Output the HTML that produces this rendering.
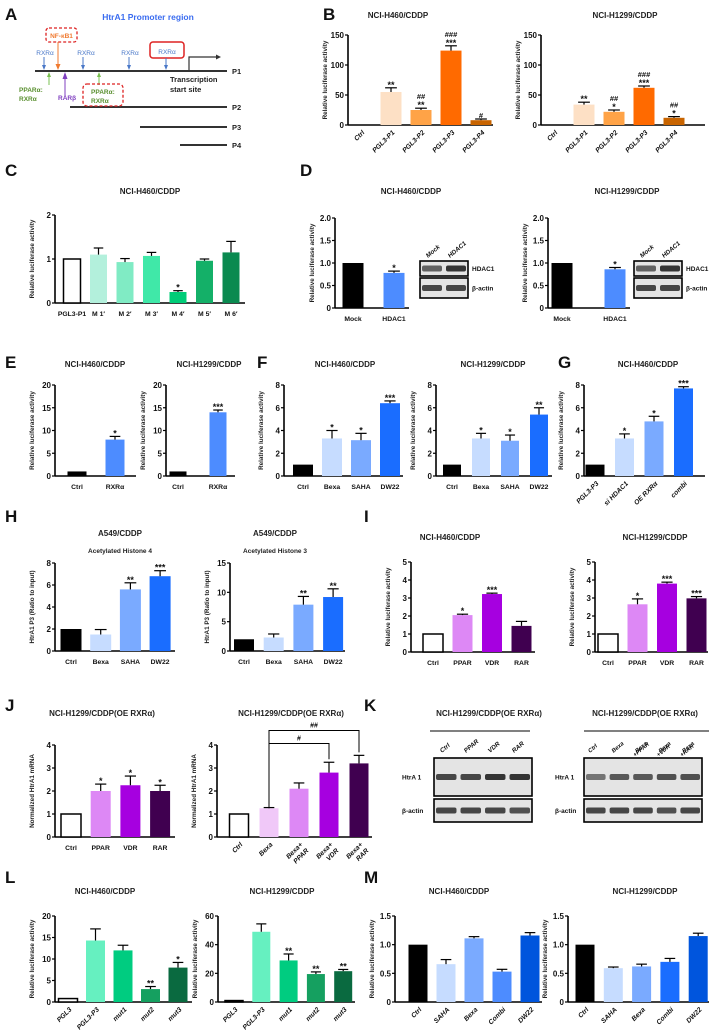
<!DOCTYPE html>
<html><head><meta charset="utf-8"><style>
body{margin:0;background:#fff}
svg{display:block;font-family:"Liberation Sans",sans-serif}
.t{font-size:7.5px;font-weight:bold;fill:#222}
.tk{font-size:8px;font-weight:bold;fill:#111}
.pl{font-size:17px;font-weight:bold;fill:#111}
</style></head><body>
<svg id="fig" width="709" height="1032" viewBox="0 0 709 1032">
<g>
<text class="pl" x="5" y="20">A</text>
<text x="148" y="20" text-anchor="middle" font-size="8.5" font-weight="bold" fill="#3a6cf0">HtrA1 Promoter region</text>
<line x1="35" y1="71" x2="227" y2="71" stroke="#333" stroke-width="2"/>
<line x1="70" y1="107" x2="227" y2="107" stroke="#333" stroke-width="2"/>
<line x1="140" y1="127" x2="227" y2="127" stroke="#333" stroke-width="2"/>
<line x1="180" y1="145" x2="227" y2="145" stroke="#333" stroke-width="2"/>
<text class="t" x="232" y="74">P1</text><text class="t" x="232" y="110">P2</text><text class="t" x="232" y="130">P3</text><text class="t" x="232" y="148">P4</text>
<rect x="46" y="28" width="31" height="14" rx="3" fill="none" stroke="#d22" stroke-dasharray="3,2" stroke-width="1.3"/>
<text x="61.5" y="38" text-anchor="middle" font-size="6.5" font-weight="bold" fill="#f07a30">NF-κB1</text>
<line x1="58" y1="42" x2="58" y2="68" stroke="#f07a30"/><path d="M55.5,64 L58,70 L60.5,64Z" fill="#f07a30"/>
<rect x="150" y="42" width="34" height="16" rx="3" fill="none" stroke="#d22" stroke-width="1.5"/>
<g font-size="6.5" fill="#4a78c8" text-anchor="middle">
<text x="45" y="55">RXRα</text><text x="86" y="55">RXRα</text><text x="130" y="55">RXRα</text><text x="167" y="54">RXRα</text></g>
<g stroke="#4a78c8"><line x1="44" y1="57" x2="44" y2="68"/><line x1="83" y1="57" x2="83" y2="68"/><line x1="129" y1="57" x2="129" y2="68"/><line x1="166" y1="58" x2="166" y2="68"/></g>
<g fill="#4a78c8"><path d="M42,65 L44,70 L46,65Z"/><path d="M81,65 L83,70 L85,65Z"/><path d="M127,65 L129,70 L131,65Z"/><path d="M164,65 L166,70 L168,65Z"/></g>
<path d="M189,71 V57 H218" fill="none" stroke="#333" stroke-width="1.2"/><path d="M216,54.5 L221,57 L216,59.5Z" fill="#333"/>
<text class="t" x="170" y="82">Transcription</text><text class="t" x="170" y="92">start site</text>
<g stroke="#7ac050"><line x1="49" y1="74" x2="49" y2="85"/><line x1="99" y1="74" x2="99" y2="85"/></g>
<path d="M47,77 L49,72 L51,77Z M97,77 L99,72 L101,77Z" fill="#7ac050"/>
<line x1="65" y1="74" x2="65" y2="96" stroke="#8040c0"/><path d="M62.5,79 L65,72 L67.5,79Z" fill="#8040c0"/>
<text x="19" y="92" font-size="6.5" font-weight="bold" fill="#5a9030">PPARα:</text><text x="19" y="101" font-size="6.5" font-weight="bold" fill="#5a9030">RXRα</text>
<text x="58" y="100" font-size="6.5" font-weight="bold" fill="#8040c0">RARβ</text>
<rect x="83" y="84" width="40" height="22" rx="4" fill="none" stroke="#d22" stroke-dasharray="3,2" stroke-width="1.3"/>
<text x="91" y="94" font-size="6.5" font-weight="bold" fill="#5a9030">PPARα:</text><text x="91" y="103" font-size="6.5" font-weight="bold" fill="#5a9030">RXRα</text>
</g>
<g>
<text class="pl" x="323" y="20">B</text><text class="pl" x="5" y="176">C</text><text class="pl" x="300" y="176">D</text>
<text class="pl" x="5" y="368">E</text><text class="pl" x="257" y="368">F</text><text class="pl" x="558" y="368">G</text>
<text class="pl" x="5" y="522">H</text><text class="pl" x="364" y="522">I</text>
<text class="pl" x="5" y="711">J</text><text class="pl" x="364" y="711">K</text>
<text class="pl" x="5" y="883">L</text><text class="pl" x="364" y="883">M</text>
</g>
<g id="blots"></g>
<g id="charts"></g>
</svg>
<script>
// ---- data ----
const bCats=["Ctrl","PGL3-P1","PGL3-P2","PGL3-P3","PGL3-P4"];
const bLeftVals=[0,55,25,124,8];const bLeftErr=[0,7,3,8,2];
const bLeftS1=["","**","**","***",""];const bLeftS2=["","","##","###","#"];
const bRightVals=[0,34,22,62,12];const bRightErr=[0,4,3,3,2];
const bRightS1=["","**","*","***","*"];const bRightS2=["","","##","###","##"];
const cCats=["PGL3-P1","M 1′","M 2′","M 3′","M 4′","M 5′","M 6′"];
const cVals=[1,1.1,0.93,1.07,0.25,0.96,1.15];const cErr=[0,0.15,0.08,0.08,0.03,0.04,0.25];
const cStars=["","","","","*","",""];
const dCats=["Mock","HDAC1"];
const dLeftVals=[1,0.78];const dLeftErr=[0,0.04];const dRightVals=[1,0.86];const dRightErr=[0,0.04];
const dStars=["","*"];
const eCats=["Ctrl","RXRα"];
const eLeftVals=[1,8];const eLeftErr=[0,0.7];const eLeftStars=["","*"];
const eRightVals=[1,14];const eRightErr=[0,0.5];const eRightStars=["","***"];
const fCats=["Ctrl","Bexa","SAHA","DW22"];
const fLeftVals=[1,3.3,3.15,6.4];const fLeftErr=[0,0.7,0.6,0.2];const fLeftStars=["","*","*","***"];
const fRightVals=[1,3.3,3.1,5.4];const fRightErr=[0,0.45,0.5,0.6];const fRightStars=["","*","*","**"];
const gCats=["PGL3-P3","si HDAC1","OE RXRα","combi"];
const gVals=[1,3.3,4.8,7.7];const gErr=[0,0.4,0.45,0.15];const gStars=["","*","*","***"];
const hCats=["Ctrl","Bexa","SAHA","DW22"];
const hLeftVals=[2,1.5,5.6,6.8];const hLeftErr=[0,0.45,0.6,0.5];const hLeftStars=["","","**","***"];
const hRightVals=[2,2.3,7.9,9.2];const hRightErr=[0,0.6,1.4,1.4];const hRightStars=["","","**","**"];
const iCats=["Ctrl","PPAR","VDR","RAR"];
const iLeftVals=[1,2.05,3.22,1.45];const iLeftErr=[0,0.05,0.05,0.25];const iLeftStars=["","*","***",""];
const iRightVals=[1,2.65,3.8,2.98];const iRightErr=[0,0.3,0.08,0.1];const iRightStars=["","*","***","***"];
const jLeftCats=["Ctrl","PPAR","VDR","RAR"];
const jLeftVals=[1,2,2.25,2];const jLeftErr=[0,0.3,0.4,0.25];const jLeftStars=["","*","*","*"];
const jRightCats=["Ctrl","Bexa","Bexa+\nPPAR","Bexa+\nVDR","Bexa+\nRAR"];
const jRightVals=[1,1.25,2.1,2.8,3.2];const jRightErr=[0,0.03,0.25,0.45,0.35];
const lCats=["PGL3","PGL3-P3","mut1","mut2","mut3"];
const lLeftVals=[0.8,14.3,12,3,8];const lLeftErr=[0,2.7,1.2,0.6,1.2];const lLeftStars=["","","","**","*"];
const lRightVals=[1,49,29,19.5,21.5];const lRightErr=[0,5.5,4.5,1.5,1.2];const lRightStars=["","","**","**","**"];
const mCats=["Ctrl","SAHA","Bexa","Combi","DW22"];
const mLeftVals=[1,0.66,1.11,0.53,1.16];const mLeftErr=[0,0.08,0.03,0.04,0.05];
const mRightVals=[1,0.59,0.62,0.70,1.15];const mRightErr=[0,0.02,0.04,0.06,0.05];
const tB=[0,50,100,150],t2=[0,1,2],tD=[0,0.5,1,1.5,2],t20=[0,5,10,15,20],t8=[0,2,4,6,8],t15=[0,5,10,15],t5=[0,1,2,3,4,5],t4=[0,1,2,3,4],t60=[0,20,40,60],tM=[0,0.5,1,1.5];

const NS="http://www.w3.org/2000/svg";
const root=document.getElementById('charts');
function mk(tag,attrs,parent){const e=document.createElementNS(NS,tag);for(const k in attrs)e.setAttribute(k,attrs[k]);parent.appendChild(e);return e;}
const orange=["#fff","#fde0c5","#ffa347","#ff6a00","#c86400"];
const greens=["#fff","#b3f0dc","#80ebc4","#40e8a8","#00cc77","#14b068","#0a8a50"];
const blues4=["#000","#c6dcff","#7aaaff","#1a6dff"];
const purp=["#fff","#dd88f5","#a600e0","#400050"];

function chart(c){
  const g=mk('g',{},root);
  
  
  const sy=v=>c.y0-(v/c.max)*(c.y0-c.yT);
  const cx=i=>c.ax+c.off+i*c.step;
  if(c.title){const t=mk('text',{x:c.tx,y:c.ty,'text-anchor':'middle','font-size':8,'font-weight':'bold',fill:'#222'},g);t.textContent=c.title;
    
    }
  if(c.sub){const t=mk('text',{x:c.tx,y:c.ty+17,'text-anchor':'middle','font-size':6.5,'font-weight':'bold',fill:'#222'},g);t.textContent=c.sub;}
  const yl=mk('text',{x:0,y:0,'text-anchor':'middle','font-size':6.3,'font-weight':'bold',fill:'#222',transform:`translate(${c.ax-(c.ylx||21)},${(c.y0+c.yT)/2}) rotate(-90)`},g);
  yl.textContent=c.ylab||"Relative luciferase activity";
  
  
  mk('line',{x1:c.ax,y1:c.yT,x2:c.ax,y2:c.y0,stroke:'#000','stroke-width':1.6},g);
  mk('line',{x1:c.ax,y1:c.y0,x2:c.axR,y2:c.y0,stroke:'#000','stroke-width':1.6},g);
  c.ticks.forEach(v=>{const y=sy(v);mk('line',{x1:c.ax-3,y1:y,x2:c.ax,y2:y,stroke:'#000','stroke-width':1.2},g);
    const t=mk('text',{x:c.ax-4,y:y+3,'text-anchor':'end',class:'tk'},g);t.textContent=(c.dec&&v!==0)?v.toFixed(1):String(v);
    
    });
  c.vals.forEach((v,i)=>{
    const x=cx(i),top=sy(v),col=c.colors[i];
    const outline=col==='#fff';
    const r=mk('rect',{x:x-c.bw/2,y:top,width:c.bw,height:Math.max(0,c.y0-top),fill:col,stroke:outline?'#000':'none','stroke-width':outline?1.5:0},g);
    
    
    const e=c.errs[i];const et=sy(v+e);
    if(e>0){mk('line',{x1:x,y1:top,x2:x,y2:et,stroke:'#000','stroke-width':1.2},g);mk('line',{x1:x-c.bw*0.28,y1:et,x2:x+c.bw*0.28,y2:et,stroke:'#000','stroke-width':1.2},g);}
    let sTop=et-3;
    if(c.s1&&c.s1[i]){const t=mk('text',{x:x,y:sTop+3,'text-anchor':'middle','font-size':9,'font-weight':'bold',fill:'#111'},g);t.textContent=c.s1[i];sTop-=8;}
    if(c.s2&&c.s2[i]){const t=mk('text',{x:x,y:sTop+2,'text-anchor':'middle','font-size':7.5,'font-weight':'bold',fill:'#111'},g);t.textContent=c.s2[i];}
    const lines=c.cats[i].split('\n');
    lines.forEach((ln,k)=>{
      let t;
      if(c.rot){t=mk('text',{x:0,y:0,'text-anchor':'end','font-size':6.8,'font-weight':'bold','font-style':'italic',fill:'#111',transform:`translate(${x+4+k*6},${c.y0+8+k*6}) rotate(-45)`},g);}
      else{t=mk('text',{x:x,y:c.y0+13,'text-anchor':'middle','font-size':6.8,'font-weight':'bold',fill:'#111'},g);}
      t.textContent=ln;
      
      
    });
  });
  return {sy,cx,g};
}
chart({name:'chart-b-h460',ax:348,axR:493,y0:125,yT:35,max:150,ticks:tB,cats:bCats,vals:bLeftVals,errs:bLeftErr,s1:bLeftS1,s2:bLeftS2,colors:orange,off:13,step:30,bw:21,rot:1,title:'NCI-H460/CDDP',tx:398,ty:18});
chart({name:'chart-b-h1299',ax:541,axR:705,y0:125,yT:35,max:150,ticks:tB,cats:bCats,vals:bRightVals,errs:bRightErr,s1:bRightS1,s2:bRightS2,colors:orange,off:13,step:30,bw:21,rot:1,title:'NCI-H1299/CDDP',tx:625,ty:18});
chart({name:'chart-c',ax:55,axR:245,y0:303,yT:215,max:2,ticks:t2,cats:cCats,vals:cVals,errs:cErr,s1:cStars,colors:greens,off:17,step:26.5,bw:17,title:'NCI-H460/CDDP',tx:150,ty:194});
chart({name:'chart-d-h460',ax:335,axR:409,y0:308,yT:218,max:2,ticks:tD,dec:1,cats:dCats,vals:dLeftVals,errs:dLeftErr,s1:dStars,colors:["#000","#4d8cff"],off:18,step:41,bw:21,title:'NCI-H460/CDDP',tx:411,ty:194});
chart({name:'chart-d-h1299',ax:548,axR:630,y0:308,yT:218,max:2,ticks:tD,dec:1,cats:dCats,vals:dRightVals,errs:dRightErr,s1:dStars,colors:["#000","#4d8cff"],off:14,step:53,bw:21,title:'NCI-H1299/CDDP',tx:627,ty:194});
chart({name:'chart-e-h460',ax:55,axR:136,y0:476,yT:385,max:20,ticks:t20,cats:eCats,vals:eLeftVals,errs:eLeftErr,s1:eLeftStars,colors:["#000","#4d8cff"],off:22,step:38,bw:19,title:'NCI-H460/CDDP',tx:95,ty:367});
chart({name:'chart-e-h1299',ax:166,axR:235,y0:476,yT:385,max:20,ticks:t20,cats:eCats,vals:eRightVals,errs:eRightErr,s1:eRightStars,colors:["#000","#4d8cff"],off:12,step:40,bw:17,title:'NCI-H1299/CDDP',tx:209,ty:367});
chart({name:'chart-f-h460',ax:284,axR:403,y0:476,yT:385,max:8,ticks:t8,cats:fCats,vals:fLeftVals,errs:fLeftErr,s1:fLeftStars,colors:blues4,off:19,step:29,bw:20,title:'NCI-H460/CDDP',tx:345,ty:367});
chart({name:'chart-f-h1299',ax:436,axR:552,y0:476,yT:385,max:8,ticks:t8,cats:fCats,vals:fRightVals,errs:fRightErr,s1:fRightStars,colors:blues4,off:16,step:29,bw:18,title:'NCI-H1299/CDDP',tx:493,ty:367});
chart({name:'chart-g',ax:584,axR:705,y0:476,yT:385,max:8,ticks:t8,cats:gCats,vals:gVals,errs:gErr,s1:gStars,colors:["#000","#c6dcff","#7aaaff","#1a6dff"],off:11,step:29.5,bw:19,rot:1,title:'NCI-H460/CDDP',tx:648,ty:367});
chart({name:'chart-h-histone4',ax:55,axR:175,y0:651,yT:563,max:8,ticks:t8,cats:hCats,vals:hLeftVals,errs:hLeftErr,s1:hLeftStars,colors:blues4,off:16,step:29.7,bw:21,title:'A549/CDDP',sub:'Acetylated Histone 4',tx:120,ty:536,ylab:'HtrA1 P3 (Ratio to input)'});
chart({name:'chart-h-histone3',ax:230,axR:345,y0:651,yT:563,max:15,ticks:t15,cats:hCats,vals:hRightVals,errs:hRightErr,s1:hRightStars,colors:blues4,off:14,step:29.7,bw:20,title:'A549/CDDP',sub:'Acetylated Histone 3',tx:275,ty:536,ylab:'HtrA1 P3 (Ratio to input)'});
chart({name:'chart-i-h460',ax:411,axR:535,y0:652,yT:562,max:5,ticks:t5,cats:iCats,vals:iLeftVals,errs:iLeftErr,s1:iLeftStars,colors:purp,off:22,step:29.5,bw:20,title:'NCI-H460/CDDP',tx:450,ty:540});
chart({name:'chart-i-h1299',ax:595,axR:708,y0:652,yT:562,max:5,ticks:t5,cats:iCats,vals:iRightVals,errs:iRightErr,s1:iRightStars,colors:purp,off:13,step:29.5,bw:20,title:'NCI-H1299/CDDP',tx:655,ty:540});
chart({name:'chart-j-mrna',ax:55,axR:175,y0:837,yT:745,max:4,ticks:t4,cats:jLeftCats,vals:jLeftVals,errs:jLeftErr,s1:jLeftStars,colors:purp,off:16,step:29.7,bw:20,title:'NCI-H1299/CDDP(OE RXRα)',tx:102,ty:716,ylab:'Normalized HtrA1 mRNA'});
const jr=chart({name:'chart-j-mrna-bexa',ax:217,axR:372,y0:837,yT:745,max:4,ticks:t4,cats:jRightCats,vals:jRightVals,errs:jRightErr,colors:["#fff","#f0c8f8","#dd88f5","#a600e0","#400050"],off:22,step:30,bw:19,rot:1,title:'NCI-H1299/CDDP(OE RXRα)',tx:291,ty:716,ylab:'Normalized HtrA1 mRNA'});
(function(){const g=jr.g,x1=jr.cx(1),x3=jr.cx(3),x4=jr.cx(4);
  const yb=jr.sy(jRightVals[1]+jRightErr[1]);
  const y1=yb-64,y2=yb-77;
  mk('path',{d:`M${x1},${yb} V${y1} H${x3} V${jr.sy(jRightVals[3]+jRightErr[3])-3}`,fill:'none',stroke:'#000','stroke-width':1},g);
  mk('path',{d:`M${x1},${y1} V${y2} H${x4} V${jr.sy(jRightVals[4]+jRightErr[4])-3}`,fill:'none',stroke:'#000','stroke-width':1},g);
  const a=mk('text',{x:(x1+x3)/2,y:y1-3,'text-anchor':'middle','font-size':7,'font-weight':'bold'},g);a.textContent='#';
  const b=mk('text',{x:(x1+x4)/2,y:y2-3,'text-anchor':'middle','font-size':7,'font-weight':'bold'},g);b.textContent='##';
})();
chart({name:'chart-l-h460',ax:55,axR:192,y0:1002,yT:916,max:20,ticks:t20,cats:lCats,vals:lLeftVals,errs:lLeftErr,s1:lLeftStars,colors:["#fff","#66f0c0","#00cc80","#15a060","#0a6a40"],off:13,step:27.5,bw:19,rot:1,title:'NCI-H460/CDDP',tx:105,ty:894});
chart({name:'chart-l-h1299',ax:218,axR:355,y0:1002,yT:916,max:60,ticks:t60,cats:lCats,vals:lRightVals,errs:lRightErr,s1:lRightStars,colors:["#fff","#66f0c0","#00cc80","#15a060","#0a6a40"],off:16,step:27.3,bw:18,rot:1,title:'NCI-H1299/CDDP',tx:282,ty:894});
chart({name:'chart-m-h460',ax:395,axR:542,y0:1002,yT:916,max:1.5,ticks:tM,dec:1,cats:mCats,vals:mLeftVals,errs:mLeftErr,colors:["#000","#c6dcff","#7aaaff","#4d8cff","#0055dd"],off:23,step:28,bw:19,rot:1,title:'NCI-H460/CDDP',tx:459,ty:894});
chart({name:'chart-m-h1299',ax:568,axR:709,y0:1002,yT:916,max:1.5,ticks:tM,dec:1,cats:mCats,vals:mRightVals,errs:mRightErr,colors:["#000","#c6dcff","#7aaaff","#1a6dff","#0055dd"],off:17,step:28.3,bw:19,rot:1,title:'NCI-H1299/CDDP',tx:645,ty:894});

// ---- western blots ----
const B=document.getElementById('blots');
function blot(x,y,w,h,n,dark,label,lx){
  mk('rect',{x:x,y:y,width:w,height:h,fill:'#e4e4e4',stroke:'#000','stroke-width':1.6},B);
  const lw=w/n;
  for(let i=0;i<n;i++){mk('rect',{x:x+i*lw+2,y:y+h/2-3,width:lw-4,height:6,rx:2,fill:'#2a2a2a',opacity:dark[i]},B);}
  if(label){const t=mk('text',{x:lx,y:y+h/2+2.5,'font-size':6.5,'font-weight':'bold',fill:'#111'},B);t.textContent=label;}
}
blot(420,261,48,15,2,[0.7,0.95],'HDAC1',472);blot(420,278,48,20,2,[0.85,0.85],'β-actin',472);
blot(634,261,48,15,2,[0.7,0.95],'HDAC1',686);blot(634,278,48,20,2,[0.85,0.85],'β-actin',686);
function rl(x,y,s,fs){const t=mk('text',{x:0,y:0,'font-size':fs||6.3,'font-weight':'bold','font-style':'italic',fill:'#111',transform:`translate(${x},${y}) rotate(-40)`},B);t.textContent=s;}
rl(428,258,'Mock');rl(450,258,'HDAC1');rl(642,258,'Mock');rl(664,258,'HDAC1');
mk('line',{x1:430,y1:731,x2:530,y2:731,stroke:'#000','stroke-width':1},B);
mk('line',{x1:584,y1:731,x2:709,y2:731,stroke:'#000','stroke-width':1},B);
const kt1=mk('text',{x:489,y:716,'text-anchor':'middle','font-size':8,'font-weight':'bold',fill:'#222'},B);kt1.textContent='NCI-H1299/CDDP(OE RXRα)';
const kt2=mk('text',{x:645,y:716,'text-anchor':'middle','font-size':8,'font-weight':'bold',fill:'#222'},B);kt2.textContent='NCI-H1299/CDDP(OE RXRα)';
['Ctrl','PPAR','VDR','RAR'].forEach((s,i)=>rl(442+i*24,753,s));
['Ctrl','Bexa','Bexa','Bexa','Bexa'].forEach((s,i)=>rl(590+i*23.5,753,s,5.8));
['+PPAR','+VDR','+RAR'].forEach((s,i)=>rl(621+i*23.5+14,757,s,5.8));
blot(434,758,98,38,4,[0.85,0.85,0.95,0.95],'HtrA 1',402);blot(434,799,98,23,4,[0.85,0.85,0.85,0.8],'β-actin',402);
blot(584,758,118,38,5,[0.6,0.75,0.75,0.8,0.8],'HtrA 1',555);blot(584,799,118,23,5,[0.85,0.85,0.85,0.8,0.85],'β-actin',555);
</script>
</body></html>
